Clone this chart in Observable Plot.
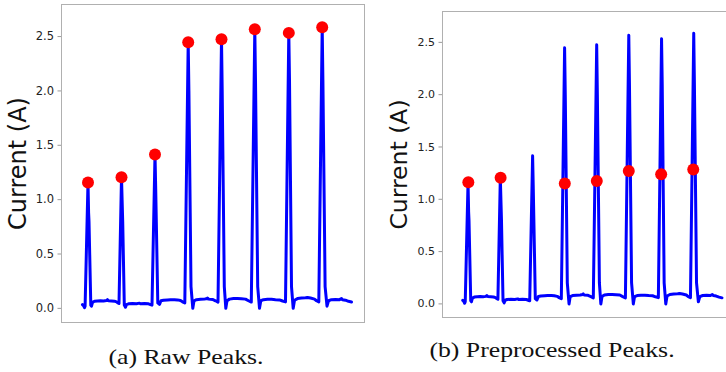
<!DOCTYPE html>
<html><head><meta charset="utf-8">
<script src="https://cdn.jsdelivr.net/npm/d3@7"></script>
<script src="https://cdn.jsdelivr.net/npm/@observablehq/plot@0.6"></script>
<style>
html,body{margin:0;padding:0;background:#fff;}
#wrap{position:relative;width:726px;height:372px;overflow:hidden;background:#fff;}
.panel{position:absolute;top:0;}
.cap{position:absolute;width:400px;text-align:center;font-family:"Liberation Serif",serif;font-size:22px;line-height:22px;color:#111;transform:scaleX(1.17);transform-origin:center;white-space:nowrap;}
</style></head><body>
<div id="wrap">
<div id="pa" class="panel" style="left:0"></div>
<div id="pb" class="panel" style="left:363px"></div>
<div class="cap" style="left:-14px;top:346px">(a) Raw Peaks.</div>
<div class="cap" style="left:352px;top:339px">(b) Preprocessed Peaks.</div>
</div>
<script>
// sampled current trace (time in samples, current in A)
const time = [
  0, 1, 2, 2.6, 5.5, 6.1, 6.5, 8.3, 9, 10, 12, 15, 18, 21, 24, 25, 26, 29, 32, 34, 35.5, 36.5,
  39, 39.6, 40.2, 41.8, 43, 44, 46, 50, 54, 57, 58, 62, 66, 68, 69.5,
  72.5, 73.2, 75.3, 77, 78.5, 81, 85, 88, 92, 95, 98, 100, 102.3,
  105.7, 106.4, 108.5, 110.3, 111.5, 114, 118, 122, 124.5, 125, 126, 130, 133, 135.5,
  139, 139.7, 141.8, 143.3, 144.5, 147, 151, 155, 159, 163, 166, 168.8,
  172.3, 173, 175.2, 177, 178.3, 181, 185, 189, 193, 197, 200, 203,
  206.3, 207, 209, 210.7, 212, 215, 219, 223, 225, 228, 232, 234, 236.3,
  239.7, 240.4, 242.6, 244.5, 246, 249, 253, 257, 259, 260, 263, 266, 269
];
const current = [
  0.034, 0.025, 0.006, 0.02, 1.16, 0.88, 0.8, 0.03, 0.02, 0.055, 0.065, 0.068, 0.07, 0.068, 0.072, 0.08, 0.07, 0.068, 0.066, 0.06, 0.05, 0.045,
  1.207, 1.0, 0.8, 0.03, 0.01, 0.035, 0.042, 0.045, 0.043, 0.048, 0.042, 0.044, 0.042, 0.035, 0.03,
  1.415, 1.1, 0.05, 0.037, 0.07, 0.075, 0.078, 0.08, 0.08, 0.078, 0.072, 0.06, 0.05,
  2.448, 2.0, 0.2, 0.0, 0.07, 0.08, 0.083, 0.085, 0.09, 0.095, 0.085, 0.082, 0.07, 0.058,
  2.476, 2.0, 0.2, 0.0, 0.07, 0.085, 0.09, 0.09, 0.088, 0.085, 0.07, 0.058,
  2.568, 2.1, 0.2, 0.0, 0.07, 0.08, 0.083, 0.083, 0.08, 0.078, 0.068, 0.06,
  2.534, 2.1, 0.2, 0.0, 0.075, 0.09, 0.095, 0.098, 0.1, 0.095, 0.085, 0.07, 0.06,
  2.586, 2.1, 0.2, 0.02, 0.07, 0.08, 0.082, 0.08, 0.09, 0.08, 0.075, 0.065, 0.058
];
// detected peaks
const rawPeakTime = [5.5, 39, 72.5, 105.7, 139, 172.3, 206.3, 239.7];
const rawPeakValue = [1.158, 1.207, 1.415, 2.448, 2.476, 2.568, 2.534, 2.586];
const prepPeakTime = [5.8, 39.3, 105.9, 139.1, 172.3, 205.9, 239.2];
const prepPeakValue = [1.162, 1.205, 1.152, 1.175, 1.27, 1.239, 1.285];
const yTicks = [0, 0.5, 1.0, 1.5, 2.0, 2.5];
const yLabel = "Current (A)";
const xDomain = [-21, 282];
const yDomain = [-0.13, 2.795];

const series = time.map((t, i) => ({t, v: current[i]}));

function panel(cfg) {
  const dots = cfg.dotsX.map((t, i) => ({t, v: cfg.dotsY[i]}));
  const svg = Plot.plot({
    width: cfg.width, height: cfg.height,
    marginLeft: cfg.marginLeft, marginRight: cfg.marginRight,
    marginTop: cfg.marginTop, marginBottom: cfg.marginBottom,
    style: {fontFamily: "DejaVu Sans", fontSize: cfg.tickFont + "px", background: "transparent", maxWidth: "none", overflow: "visible"},
    x: {domain: xDomain, axis: null},
    y: {domain: yDomain},
    marks: [
      Plot.axisY(yTicks, {tickFormat: d3.format(".1f"), tickSize: 3.5, tickPadding: 4, stroke: "#9a9a9a", fill: "#222", fontSize: cfg.tickFont,
        label: yLabel, labelAnchor: "center", labelArrow: "none", labelOffset: cfg.labelOffset}),
      Plot.line(series, {x: "t", y: "v", stroke: "#0000ff", strokeWidth: 3, strokeLinejoin: "round", strokeLinecap: "round"}),
      Plot.dot(dots, {x: "t", y: "v", r: 6, fill: "#ff0000"}),
      Plot.frame({stroke: "#b0b0b0", strokeWidth: 1})
    ]
  });
  const lab = d3.select(svg).selectAll('[aria-label="y-axis label"]');
  lab.attr("font-size", cfg.labelFont);
  lab.selectAll("text").attr("font-size", cfg.labelFont).attr("fill", "#111");
  return svg;
}

document.getElementById("pa").appendChild(panel({
  width: 366, height: 330, marginLeft: 61, marginRight: 2, marginTop: 4, marginBottom: 8,
  tickFont: 11.5, labelFont: 24, labelOffset: 53, dotsX: rawPeakTime, dotsY: rawPeakValue
}));
document.getElementById("pb").appendChild(panel({
  width: 371, height: 325, marginLeft: 79, marginRight: 0, marginTop: 11, marginBottom: 8,
  tickFont: 11, labelFont: 23.5, labelOffset: 52, dotsX: prepPeakTime, dotsY: prepPeakValue
}));
</script>
</body></html>
